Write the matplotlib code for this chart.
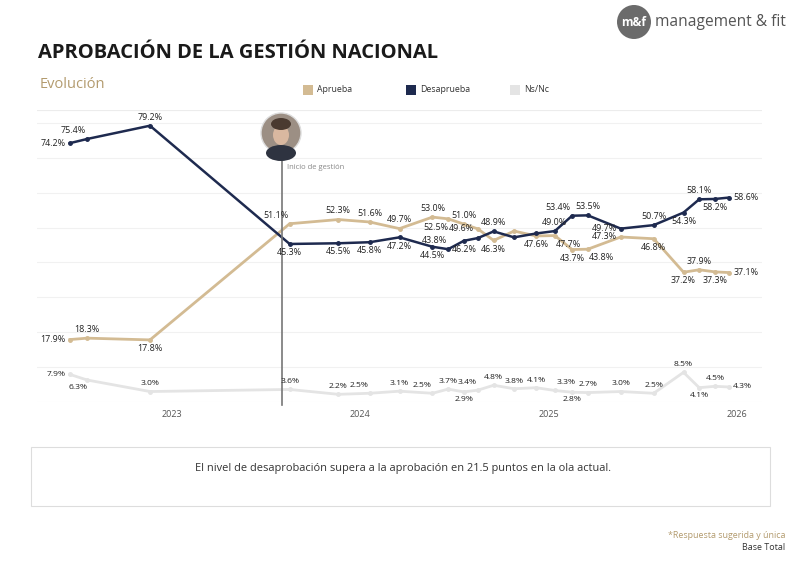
import matplotlib.pyplot as plt
from matplotlib.patches import Rectangle, Ellipse

# months relative to the "2024" tick on the time axis
wave_x = [-18.5, -17.4, -13.4, -4.5, -1.4, 0.6, 2.5, 4.6, 5.6, 6.6, 7.5, 8.5,
          9.8, 11.2, 12.4, 13.5, 14.5, 16.6, 18.7, 20.6, 21.6, 22.6, 23.5]
aprueba = [17.9, 18.3, 17.8, 51.1, 52.3, 51.6, 49.7, 53.0, 52.5, 51.0, 49.6, 46.3,
           49.0, 47.6, 47.7, 43.7, 43.8, 47.3, 46.8, 37.2, 37.9, 37.3, 37.1]
desaprueba = [74.2, 75.4, 79.2, 45.3, 45.5, 45.8, 47.2, 44.5, 43.8, 46.2, 47.0, 48.9,
              47.2, 48.3, 49.0, 53.4, 53.5, 49.7, 50.7, 54.3, 58.1, 58.2, 58.6]
nsnc = [7.9, 6.3, 3.0, 3.6, 2.2, 2.5, 3.1, 2.5, 3.7, 2.9, 3.4, 4.8,
        3.8, 4.1, 3.3, 2.8, 2.7, 3.0, 2.5, 8.5, 4.1, 4.5, 4.3]
year_ticks = [-12, 0, 12, 24]
year_labels = ['2023', '2024', '2025', '2026']
inicio_x = -5.0

# where each value label goes ('' = not shown)
desap_pos = ['l', 'ul', 'u', 'b', 'b', 'b', 'b', 'b', 'ul', 'b', '', 'u',
             '', '', 'u', 'ul', 'u', 'l', 'u', 'b', 'u', 'b', 'r']
aprue_pos = ['l', 'u', 'b', 'ul', 'u', 'u', 'u', 'u', 'bl', 'u', 'l', 'b',
             '', 'b', 'br', 'b', 'br', 'l', 'b', 'b', 'u', 'b', 'r']
ns_pos = ['l', 'bl', 'u', 'u', 'u', 'ul', 'u', 'ul', 'u', 'b', 'ul', 'u',
          'u', 'u', 'ur', 'b', 'u', 'u', 'u', 'u', 'b', 'u', 'r']

c_apr = '#d3bb93'
c_des = '#1e2a4f'
c_ns = '#e4e4e4'
c_tan = '#b39b6e'

plt.rcParams['font.family'] = ['Open Sans', 'DejaVu Sans']

fig = plt.figure(figsize=(8, 5.65), dpi=100)

def fx(px):
    return px / 800

def fy(py):
    return 1 - py / 565

ax = fig.add_axes([fx(37), fy(402), fx(762) - fx(37), fy(110) - fy(402)])
ax.set_xlim(-20.6, 25.6)
ax.set_ylim(0, 83.7)
for v in range(0, 81, 10):
    ax.axhline(v, color='#f1f1f1', lw=0.8, zorder=0)
ax.axhline(83.7, color='#ececec', lw=0.8, zorder=0)
for s in ax.spines.values():
    s.set_visible(False)
ax.set_yticks([])
ax.set_xticks(year_ticks)
ax.set_xticklabels(year_labels, fontsize=6.5, color='#555555')
ax.tick_params(axis='x', length=0, pad=6)

ax.plot(wave_x, nsnc, color=c_ns, lw=2, marker='o', ms=2.5, zorder=2)
ax.plot(wave_x, aprueba, color=c_apr, lw=2, marker='o', ms=2.5, zorder=3)
ax.plot(wave_x, desaprueba, color=c_des, lw=1.8, marker='o', ms=2.5, zorder=4)

offsets = {
    'u': ((0, 3), 'center', 'bottom'),
    'b': ((0, -3), 'center', 'top'),
    'l': ((-3, 0), 'right', 'center'),
    'r': ((3, 0), 'left', 'center'),
    'ul': ((-1, 3), 'right', 'bottom'),
    'bl': ((0, -3), 'right', 'top'),
    'ur': ((1, 3), 'left', 'bottom'),
    'br': ((1, -3), 'left', 'top'),
}

def put_labels(vals, pos, size):
    for xv, yv, p in zip(wave_x, vals, pos):
        if not p:
            continue
        off, ha, va = offsets[p]
        ax.annotate(f'{yv:.1f}%', (xv, yv), xytext=off, textcoords='offset points',
                    ha=ha, va=va, fontsize=size, color='#222222', zorder=6)

put_labels(desaprueba, desap_pos, 6.4)
put_labels(aprueba, aprue_pos, 6.4)
put_labels(nsnc, ns_pos, 6.1)

# start of government marker
ax.axvline(inicio_x, ymin=-0.01, ymax=0.86, color='#777777', lw=1.2, clip_on=False, zorder=5)
ax.text(inicio_x + 0.3, 67.3, 'Inicio de gestión', fontsize=5.5, color='#888888', va='center')

# portrait placeholder
cx, cy = fx(281), fy(133)
fig.patches.append(Ellipse((cx, cy), 40 / 800, 40 / 565, transform=fig.transFigure,
                           facecolor='#9c8f84', edgecolor='#dddddd', lw=1))
fig.patches.append(Ellipse((cx, cy - 2 / 565), 16 / 800, 20 / 565, transform=fig.transFigure,
                           facecolor='#d9b8a0', edgecolor='none'))
fig.patches.append(Ellipse((cx, cy + 9 / 565), 20 / 800, 12 / 565, transform=fig.transFigure,
                           facecolor='#4a3a30', edgecolor='none'))
fig.patches.append(Ellipse((cx, cy - 20 / 565), 30 / 800, 16 / 565, transform=fig.transFigure,
                           facecolor='#2e3340', edgecolor='none'))

# header
fig.text(fx(38), fy(53), 'APROBACIÓN DE LA GESTIÓN NACIONAL', fontsize=14.5,
         fontweight='bold', color='#1a1a1a', va='center')
fig.text(fx(40), fy(85), 'Evolución', fontsize=10.5, color=c_tan, va='center')

legend_items = [('Aprueba', c_apr, 303), ('Desaprueba', c_des, 406), ('Ns/Nc', c_ns, 510)]
for name, col, px in legend_items:
    fig.patches.append(Rectangle((fx(px), fy(95)), 10 / 800, 10 / 565, transform=fig.transFigure,
                                 facecolor=col, edgecolor='none'))
    fig.text(fx(px + 14), fy(90), name, fontsize=6.3, color='#333333', va='center')

# logo
fig.patches.append(Ellipse((fx(634), fy(22)), 34 / 800, 34 / 565, transform=fig.transFigure,
                           facecolor='#6b6b6b', edgecolor='none'))
fig.text(fx(634), fy(22), 'm&f', fontsize=8.5, fontweight='bold', color='white',
         ha='center', va='center')
fig.text(fx(655), fy(22), 'management & fit', fontsize=11.2, color='#555555', va='center')

# comment box
fig.patches.append(Rectangle((fx(31), fy(506)), (770 - 31) / 800, (506 - 447) / 565,
                             transform=fig.transFigure, facecolor='white',
                             edgecolor='#dddddd', lw=0.8))
fig.text(fx(403), fy(468), 'El nivel de desaprobación supera a la aprobación en 21.5 puntos en la ola actual.',
         fontsize=7.9, color='#333333', ha='center', va='center')

fig.text(fx(785), fy(535), '*Respuesta sugerida y única', fontsize=6.4, color=c_tan,
         ha='right', va='center')
fig.text(fx(785), fy(548), 'Base Total', fontsize=6.4, color='#333333', ha='right', va='center')

fig.savefig('out.png', dpi=100)
